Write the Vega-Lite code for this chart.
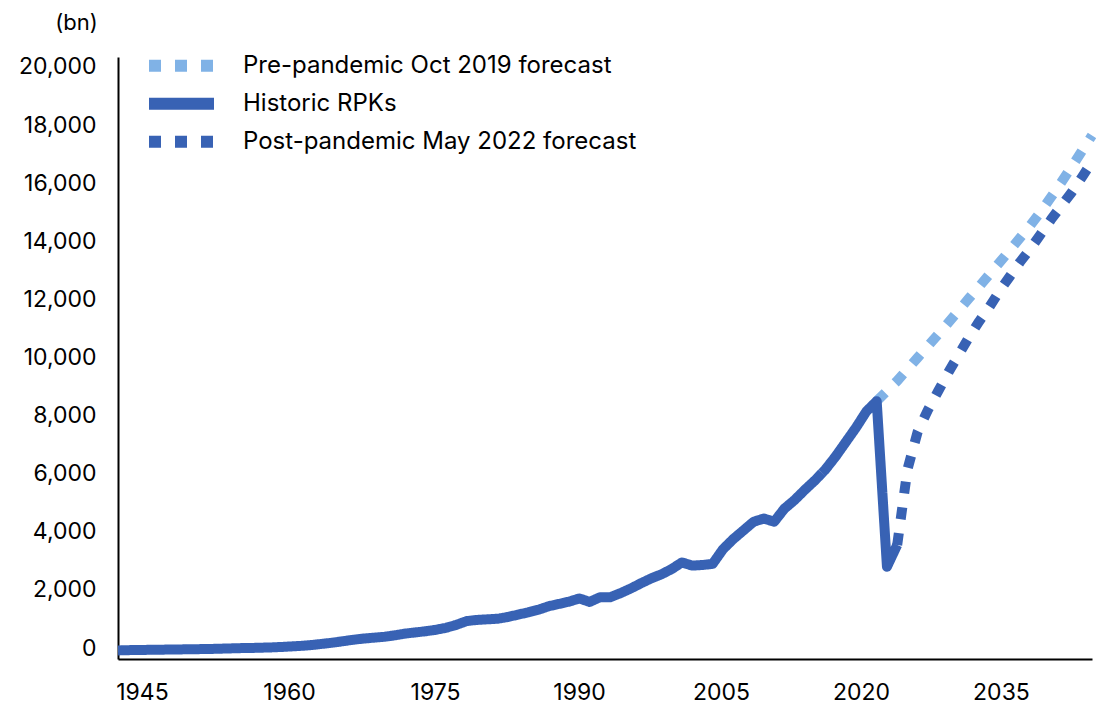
{
  "$schema": "https://vega.github.io/schema/vega-lite/v6.json",
  "width": 974,
  "height": 602,
  "autosize": {"type": "none"},
  "padding": {"left": 118, "top": 57, "right": 4, "bottom": 45},
  "config": {
    "view": {"stroke": null},
    "font": "Inter",
    "axis": {"labelFont": "Inter", "titleFont": "Inter", "labelColor": "#000000", "titleColor": "#000000", "domainColor": "#000000", "domainWidth": 2, "grid": false, "ticks": false},
    "legend": {"labelFont": "Inter"}
  },
  "data": {
    "values": [
      {"year": 2019, "value": 8600, "series": "Pre-pandemic Oct 2019 forecast"},
      {"year": 2020, "value": 8950, "series": "Pre-pandemic Oct 2019 forecast"},
      {"year": 2021, "value": 9300, "series": "Pre-pandemic Oct 2019 forecast"},
      {"year": 2022, "value": 9700, "series": "Pre-pandemic Oct 2019 forecast"},
      {"year": 2023, "value": 10100, "series": "Pre-pandemic Oct 2019 forecast"},
      {"year": 2024, "value": 10500, "series": "Pre-pandemic Oct 2019 forecast"},
      {"year": 2025, "value": 10900, "series": "Pre-pandemic Oct 2019 forecast"},
      {"year": 2026, "value": 11310, "series": "Pre-pandemic Oct 2019 forecast"},
      {"year": 2027, "value": 11720, "series": "Pre-pandemic Oct 2019 forecast"},
      {"year": 2028, "value": 12140, "series": "Pre-pandemic Oct 2019 forecast"},
      {"year": 2029, "value": 12550, "series": "Pre-pandemic Oct 2019 forecast"},
      {"year": 2030, "value": 12970, "series": "Pre-pandemic Oct 2019 forecast"},
      {"year": 2031, "value": 13380, "series": "Pre-pandemic Oct 2019 forecast"},
      {"year": 2032, "value": 13800, "series": "Pre-pandemic Oct 2019 forecast"},
      {"year": 2033, "value": 14230, "series": "Pre-pandemic Oct 2019 forecast"},
      {"year": 2034, "value": 14660, "series": "Pre-pandemic Oct 2019 forecast"},
      {"year": 2035, "value": 15120, "series": "Pre-pandemic Oct 2019 forecast"},
      {"year": 2036, "value": 15620, "series": "Pre-pandemic Oct 2019 forecast"},
      {"year": 2037, "value": 16130, "series": "Pre-pandemic Oct 2019 forecast"},
      {"year": 2038, "value": 16660, "series": "Pre-pandemic Oct 2019 forecast"},
      {"year": 2039, "value": 17200, "series": "Pre-pandemic Oct 2019 forecast"},
      {"year": 2040, "value": 17750, "series": "Pre-pandemic Oct 2019 forecast"},
      {"year": 2021, "value": 3650, "series": "Post-pandemic May 2022 forecast"},
      {"year": 2022, "value": 6250, "series": "Post-pandemic May 2022 forecast"},
      {"year": 2023, "value": 7550, "series": "Post-pandemic May 2022 forecast"},
      {"year": 2024, "value": 8300, "series": "Post-pandemic May 2022 forecast"},
      {"year": 2025, "value": 8950, "series": "Post-pandemic May 2022 forecast"},
      {"year": 2026, "value": 9600, "series": "Post-pandemic May 2022 forecast"},
      {"year": 2027, "value": 10200, "series": "Post-pandemic May 2022 forecast"},
      {"year": 2028, "value": 10800, "series": "Post-pandemic May 2022 forecast"},
      {"year": 2029, "value": 11350, "series": "Post-pandemic May 2022 forecast"},
      {"year": 2030, "value": 11850, "series": "Post-pandemic May 2022 forecast"},
      {"year": 2031, "value": 12400, "series": "Post-pandemic May 2022 forecast"},
      {"year": 2032, "value": 12900, "series": "Post-pandemic May 2022 forecast"},
      {"year": 2033, "value": 13400, "series": "Post-pandemic May 2022 forecast"},
      {"year": 2034, "value": 13850, "series": "Post-pandemic May 2022 forecast"},
      {"year": 2035, "value": 14350, "series": "Post-pandemic May 2022 forecast"},
      {"year": 2036, "value": 14850, "series": "Post-pandemic May 2022 forecast"},
      {"year": 2037, "value": 15320, "series": "Post-pandemic May 2022 forecast"},
      {"year": 2038, "value": 15780, "series": "Post-pandemic May 2022 forecast"},
      {"year": 2039, "value": 16300, "series": "Post-pandemic May 2022 forecast"},
      {"year": 2040, "value": 16840, "series": "Post-pandemic May 2022 forecast"},
      {"year": 1945, "value": 20, "series": "Historic RPKs"},
      {"year": 1946, "value": 30, "series": "Historic RPKs"},
      {"year": 1947, "value": 35, "series": "Historic RPKs"},
      {"year": 1948, "value": 40, "series": "Historic RPKs"},
      {"year": 1949, "value": 45, "series": "Historic RPKs"},
      {"year": 1950, "value": 50, "series": "Historic RPKs"},
      {"year": 1951, "value": 55, "series": "Historic RPKs"},
      {"year": 1952, "value": 60, "series": "Historic RPKs"},
      {"year": 1953, "value": 65, "series": "Historic RPKs"},
      {"year": 1954, "value": 70, "series": "Historic RPKs"},
      {"year": 1955, "value": 80, "series": "Historic RPKs"},
      {"year": 1956, "value": 90, "series": "Historic RPKs"},
      {"year": 1957, "value": 100, "series": "Historic RPKs"},
      {"year": 1958, "value": 105, "series": "Historic RPKs"},
      {"year": 1959, "value": 115, "series": "Historic RPKs"},
      {"year": 1960, "value": 125, "series": "Historic RPKs"},
      {"year": 1961, "value": 140, "series": "Historic RPKs"},
      {"year": 1962, "value": 160, "series": "Historic RPKs"},
      {"year": 1963, "value": 180, "series": "Historic RPKs"},
      {"year": 1964, "value": 210, "series": "Historic RPKs"},
      {"year": 1965, "value": 250, "series": "Historic RPKs"},
      {"year": 1966, "value": 290, "series": "Historic RPKs"},
      {"year": 1967, "value": 340, "series": "Historic RPKs"},
      {"year": 1968, "value": 390, "series": "Historic RPKs"},
      {"year": 1969, "value": 430, "series": "Historic RPKs"},
      {"year": 1970, "value": 460, "series": "Historic RPKs"},
      {"year": 1971, "value": 490, "series": "Historic RPKs"},
      {"year": 1972, "value": 540, "series": "Historic RPKs"},
      {"year": 1973, "value": 600, "series": "Historic RPKs"},
      {"year": 1974, "value": 640, "series": "Historic RPKs"},
      {"year": 1975, "value": 680, "series": "Historic RPKs"},
      {"year": 1976, "value": 730, "series": "Historic RPKs"},
      {"year": 1977, "value": 800, "series": "Historic RPKs"},
      {"year": 1978, "value": 900, "series": "Historic RPKs"},
      {"year": 1979, "value": 1030, "series": "Historic RPKs"},
      {"year": 1980, "value": 1070, "series": "Historic RPKs"},
      {"year": 1981, "value": 1090, "series": "Historic RPKs"},
      {"year": 1982, "value": 1110, "series": "Historic RPKs"},
      {"year": 1983, "value": 1170, "series": "Historic RPKs"},
      {"year": 1984, "value": 1250, "series": "Historic RPKs"},
      {"year": 1985, "value": 1330, "series": "Historic RPKs"},
      {"year": 1986, "value": 1420, "series": "Historic RPKs"},
      {"year": 1987, "value": 1540, "series": "Historic RPKs"},
      {"year": 1988, "value": 1620, "series": "Historic RPKs"},
      {"year": 1989, "value": 1700, "series": "Historic RPKs"},
      {"year": 1990, "value": 1810, "series": "Historic RPKs"},
      {"year": 1991, "value": 1690, "series": "Historic RPKs"},
      {"year": 1992, "value": 1850, "series": "Historic RPKs"},
      {"year": 1993, "value": 1850, "series": "Historic RPKs"},
      {"year": 1994, "value": 1990, "series": "Historic RPKs"},
      {"year": 1995, "value": 2150, "series": "Historic RPKs"},
      {"year": 1996, "value": 2330, "series": "Historic RPKs"},
      {"year": 1997, "value": 2500, "series": "Historic RPKs"},
      {"year": 1998, "value": 2640, "series": "Historic RPKs"},
      {"year": 1999, "value": 2820, "series": "Historic RPKs"},
      {"year": 2000, "value": 3050, "series": "Historic RPKs"},
      {"year": 2001, "value": 2940, "series": "Historic RPKs"},
      {"year": 2002, "value": 2960, "series": "Historic RPKs"},
      {"year": 2003, "value": 3000, "series": "Historic RPKs"},
      {"year": 2004, "value": 3500, "series": "Historic RPKs"},
      {"year": 2005, "value": 3850, "series": "Historic RPKs"},
      {"year": 2006, "value": 4150, "series": "Historic RPKs"},
      {"year": 2007, "value": 4450, "series": "Historic RPKs"},
      {"year": 2008, "value": 4560, "series": "Historic RPKs"},
      {"year": 2009, "value": 4450, "series": "Historic RPKs"},
      {"year": 2010, "value": 4900, "series": "Historic RPKs"},
      {"year": 2011, "value": 5200, "series": "Historic RPKs"},
      {"year": 2012, "value": 5550, "series": "Historic RPKs"},
      {"year": 2013, "value": 5880, "series": "Historic RPKs"},
      {"year": 2014, "value": 6250, "series": "Historic RPKs"},
      {"year": 2015, "value": 6700, "series": "Historic RPKs"},
      {"year": 2016, "value": 7200, "series": "Historic RPKs"},
      {"year": 2017, "value": 7700, "series": "Historic RPKs"},
      {"year": 2018, "value": 8250, "series": "Historic RPKs"},
      {"year": 2019, "value": 8600, "series": "Historic RPKs"},
      {"year": 2020, "value": 2900, "series": "Historic RPKs"},
      {"year": 2021, "value": 3650, "series": "Historic RPKs"}
    ]
  },
  "mark": {"type": "line", "strokeWidth": 10, "strokeJoin": "round", "clip": false},
  "encoding": {
    "x": {
      "field": "year",
      "type": "quantitative",
      "scale": {"domain": [1945, 2040], "nice": false, "zero": false},
      "axis": {
        "title": null,
        "values": [1947.34, 1961.68, 1975.92, 1989.96, 2003.81, 2017.47, 2031.12],
        "labelExpr": "datum.value < 1950 ? '1945' : datum.value < 1965 ? '1960' : datum.value < 1980 ? '1975' : datum.value < 1995 ? '1990' : datum.value < 2010 ? '2005' : datum.value < 2025 ? '2020' : '2035'",
        "labelFontSize": 23,
        "labelPadding": 22,
        "labelFlush": false,
        "labelOverlap": false
      }
    },
    "y": {
      "field": "value",
      "type": "quantitative",
      "scale": {"domain": [-275, 20447], "nice": false, "zero": false},
      "axis": {
        "title": "(bn)",
        "titleAngle": 0,
        "titleX": -42,
        "titleY": -35,
        "titleAlign": "center",
        "titleBaseline": "middle",
        "titleFontSize": 22,
        "titleFontWeight": "normal",
        "values": [0, 2000, 4000, 6000, 8000, 10000, 12000, 14000, 16000, 18000, 20000],
        "format": ",d",
        "labelFontSize": 23,
        "labelPadding": 22,
        "labelOffset": -3
      }
    },
    "color": {
      "field": "series",
      "type": "nominal",
      "scale": {
        "domain": ["Pre-pandemic Oct 2019 forecast", "Historic RPKs", "Post-pandemic May 2022 forecast"],
        "range": ["#80B2E6", "#3862B4", "#3862B4"]
      },
      "legend": {
        "title": null,
        "orient": "none",
        "legendX": 25,
        "legendY": -10,
        "symbolType": "stroke",
        "symbolSize": 4225,
        "symbolStrokeWidth": 12,
        "labelFontSize": 24,
        "labelColor": "#000000",
        "labelOffset": 23,
        "rowPadding": 0,
        "clipHeight": 37.5,
        "labelLimit": 600
      }
    },
    "strokeDash": {
      "field": "series",
      "type": "nominal",
      "scale": {
        "domain": ["Pre-pandemic Oct 2019 forecast", "Historic RPKs", "Post-pandemic May 2022 forecast"],
        "range": [[12, 14], [1, 0], [12, 14]]
      },
      "legend": {
        "title": null,
        "orient": "none",
        "legendX": 25,
        "legendY": -10,
        "symbolType": "stroke",
        "symbolSize": 4225,
        "symbolStrokeWidth": 12,
        "labelFontSize": 24,
        "labelColor": "#000000",
        "labelOffset": 23,
        "rowPadding": 0,
        "clipHeight": 37.5,
        "labelLimit": 600
      }
    }
  }
}
